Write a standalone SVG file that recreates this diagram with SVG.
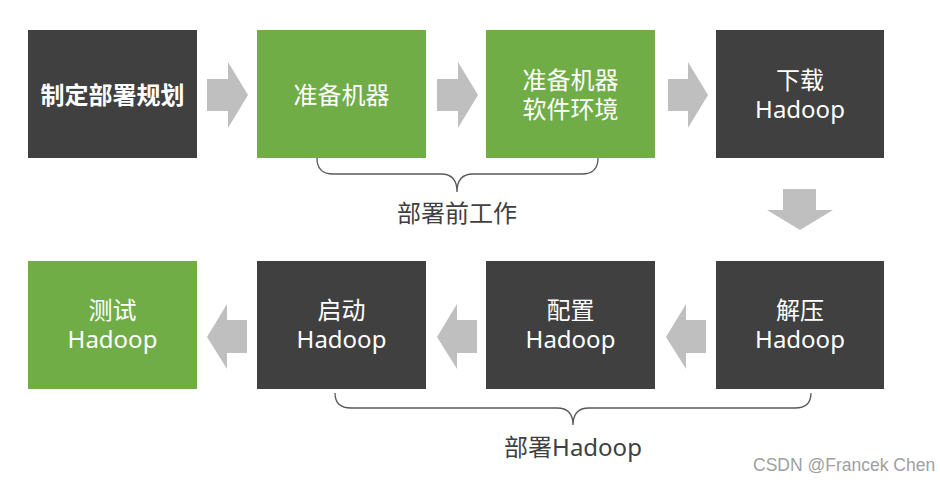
<svg xmlns="http://www.w3.org/2000/svg" width="940" height="482" viewBox="0 0 940 482">
<style>
.dark{fill:#404040}
.green{fill:#70AD47}
.arrow{fill:#BFBFBF}
.t{font-family:"Noto Sans","Noto Sans CJK SC",sans-serif;font-size:24px;fill:#FFFFFF;text-anchor:middle}
.b{font-weight:bold}
.lbl{font-family:"Noto Sans","Noto Sans CJK SC",sans-serif;font-size:24px;fill:#404040;text-anchor:middle}
.brace{fill:none;stroke:#595959;stroke-width:1.3}
.wm{font-family:"Liberation Sans",Arial,sans-serif;font-size:17.5px;fill:#A0A0A0}
</style>
<rect width="940" height="482" fill="#FFFFFF"/>
<g id="connectors">
<polygon class="arrow" points="207,79 228,79 228,62 248,95 228,128 228,111 207,111"/>
<polygon class="arrow" points="437,79 458,79 458,62 478,95 458,128 458,111 437,111"/>
<polygon class="arrow" points="668,79 688,79 688,62 708,95 688,128 688,111 668,111"/>
<polygon class="arrow" points="783,189 816,189 816,210 833,210 800,230 767,210 783,210"/>
<polygon class="arrow" points="247,320 227,320 227,304 207,337 227,369 227,353 247,353"/>
<polygon class="arrow" points="477,320 457,320 457,304 437,337 457,369 457,353 477,353"/>
<polygon class="arrow" points="706,320 686,320 686,304 666,337 686,369 686,353 706,353"/>
</g>
<g id="n1"><rect class="dark" x="28" y="30" width="169" height="128"/><text class="t b" x="112.5" y="104">制定部署规划</text></g>
<g id="n2"><rect class="green" x="257" y="30" width="169" height="128"/><text class="t" x="341.5" y="104">准备机器</text></g>
<g id="n3"><rect class="green" x="486" y="30" width="169" height="128"/><text class="t" x="570.5" y="89">准备机器</text><text class="t" x="570.5" y="118">软件环境</text></g>
<g id="n4"><rect class="dark" x="716" y="30" width="168" height="128"/><text class="t" x="800" y="89">下载</text><text class="t" x="800" y="118">Hadoop</text></g>
<g id="n5"><rect class="dark" x="716" y="261" width="168" height="128"/><text class="t" x="800" y="319">解压</text><text class="t" x="800" y="348">Hadoop</text></g>
<g id="n6"><rect class="dark" x="486" y="261" width="169" height="128"/><text class="t" x="570.5" y="319">配置</text><text class="t" x="570.5" y="348">Hadoop</text></g>
<g id="n7"><rect class="dark" x="257" y="261" width="169" height="128"/><text class="t" x="341.5" y="319">启动</text><text class="t" x="341.5" y="348">Hadoop</text></g>
<g id="n8"><rect class="green" x="28" y="261" width="169" height="128"/><text class="t" x="112.5" y="319">测试</text><text class="t" x="112.5" y="348">Hadoop</text></g>
<g id="brace1"><path class="brace" d="M317,158 Q317,174 333,174 L441,174 Q457,174 457,192 Q457,174 473,174 L582,174 Q598,174 598,158"/><text class="lbl" x="457" y="222">部署前工作</text></g>
<g id="brace2"><path class="brace" d="M335,393 Q335,408 351,408 L557,408 Q573,408 573,425 Q573,408 589,408 L795,408 Q811,408 811,393"/><text class="lbl" x="573" y="456">部署Hadoop</text></g>
<text class="wm" x="753" y="471">CSDN @Francek Chen</text>
</svg>
